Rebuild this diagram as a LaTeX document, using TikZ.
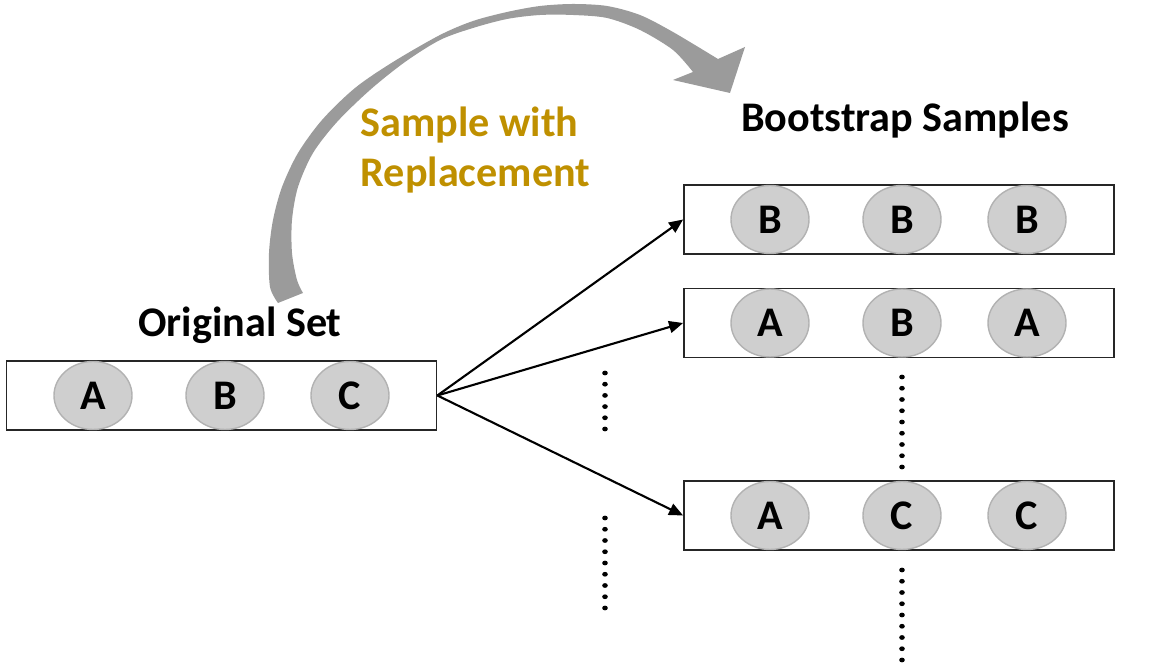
\documentclass[tikz,border=0pt]{standalone}
\usepackage{fontspec}
\setmainfont{Carlito}
\usetikzlibrary{shapes.geometric}
\usetikzlibrary{arrows.meta}
\definecolor{gold}{RGB}{191,144,0}
\definecolor{ballgray}{RGB}{207,207,207}
\definecolor{arcgray}{RGB}{155,155,155}

\begin{document}
\begin{tikzpicture}[
        txt/.style={font=\fontsize{12}{14}\selectfont\bfseries, inner sep=0pt},
        setbox/.style={draw=black!85, line width=0.5pt, minimum width=4.3cm, minimum height=0.69cm, inner sep=0pt},
        ball/.style={ellipse, draw=black!30, fill=ballgray, minimum width=0.78cm, minimum height=0.68cm, inner sep=0pt, font=\fontsize{12}{14}\selectfont\bfseries},
        arr/.style={-{Triangle[length=4pt,width=3.4pt]}, line width=0.6pt}
    ]
        \useasboundingbox (0,0) rectangle (11.54,6.70);

        % Curved grey arrow
        \fill[arcgray] plot[smooth, tension=0.5] coordinates {(2.78,3.67) (2.70,3.83) (2.69,4.17) (2.73,4.50) (2.82,4.83) (2.98,5.17) (3.22,5.50) (3.55,5.82) (3.93,6.08) (4.40,6.35) (4.73,6.49) (5.07,6.58) (5.40,6.64) (5.73,6.66) (6.07,6.64) (6.40,6.55) (6.73,6.38) (7.18,6.11)}
            -- (7.45,6.23) -- (7.30,5.77) -- (6.73,5.90)
            -- plot[smooth, tension=0.5] coordinates {(6.93,5.98) (6.73,6.20) (6.40,6.40) (6.07,6.52) (5.73,6.55) (5.40,6.55) (5.07,6.51) (4.73,6.42) (4.40,6.30) (4.05,6.08) (3.70,5.80) (3.37,5.48) (3.13,5.17) (2.98,4.83) (2.92,4.50) (2.92,4.17) (2.97,3.90) (3.03,3.77)}
            -- cycle;

        % Labels
        \node[txt, anchor=base] (origlbl) at (2.40,3.33) {Original Set};
        \node[txt, anchor=base] (bslbl) at (9.05,5.38) {Bootstrap Samples};
        \node[txt, text=gold, anchor=base west] (swr1) at (3.60,5.33) {Sample with};
        \node[txt, text=gold, anchor=base west] (swr2) at (3.60,4.83) {Replacement};

        % Original set
        \node[setbox] (orig) at (2.215,2.745) {};
        \node[ball] (oA) at (0.93,2.745) {A};
        \node[ball] (oB) at (2.25,2.745) {B};
        \node[ball] (oC) at (3.50,2.745) {C};

        % Bootstrap samples
        \foreach \n/\y/\p/\q/\r in {1/4.505/B/B/B, 2/3.47/A/B/A, 3/1.545/A/C/C} {
            \node[setbox] (bs\n) at (8.99,\y) {};
            \node[ball] (bs\n a) at (7.70,\y) {\p};
            \node[ball] (bs\n b) at (9.02,\y) {\q};
            \node[ball] (bs\n c) at (10.27,\y) {\r};
        }

        \draw[arr] (orig.east) -- (bs1.west);
        \draw[arr] (orig.east) -- (bs2.west);
        \draw[arr] (orig.east) -- (bs3.west);

        % Dots
        \foreach \k in {0,...,5} \fill (6.05,{2.97-0.112*\k}) ellipse (0.028 and 0.024);
        \foreach \k in {0,...,8} \fill (6.05,{1.52-0.1125*\k}) ellipse (0.028 and 0.024);
        \foreach \k in {0,...,8} \fill (9.02,{2.93-0.1125*\k}) ellipse (0.028 and 0.024);
        \foreach \k in {0,...,8} \fill (9.02,{1.00-0.1125*\k}) ellipse (0.028 and 0.024);
    \end{tikzpicture}
\end{document}
